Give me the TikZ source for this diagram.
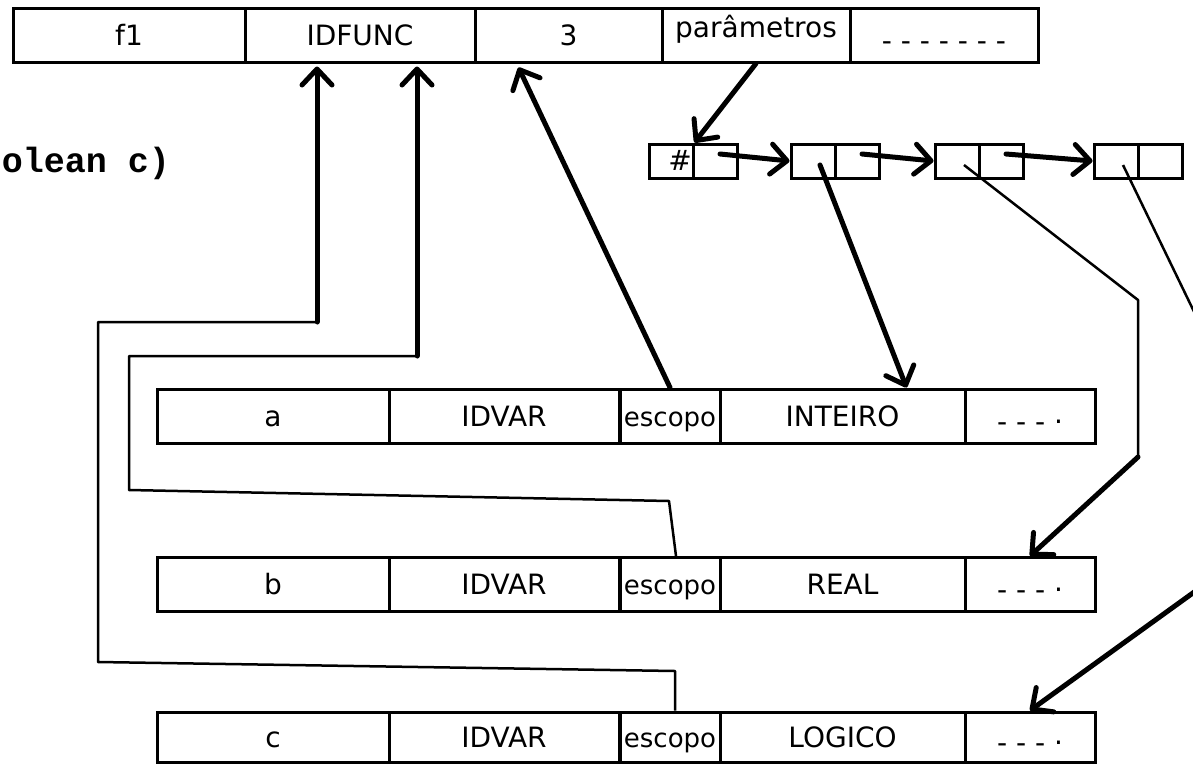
\documentclass[tikz,border=0pt]{standalone}
\usepackage{fontspec}
\setmainfont{DejaVu Sans}
\newfontfamily\codigo{Liberation Mono}
\usetikzlibrary{arrows.meta}
\begin{document}
\begin{tikzpicture}[x=1pt,y=-1pt,
  cel/.style={draw,line width=3pt,inner sep=0pt,minimum height=54pt,text height=20pt,text depth=0pt,font=\fontsize{28}{30}\selectfont},
  no/.style={draw,line width=3pt,inner sep=0pt,minimum width=44pt,minimum height=34pt,text height=18pt,text depth=0pt,font=\fontsize{28}{30}\selectfont},
  fio/.style={line width=2.5pt,line join=round},
  seta/.style={line width=5pt,line cap=round,-{Straight Barb[length=16pt,width=30pt,round]}}]
  \useasboundingbox (0,0) rectangle (1193,763);
  \clip (0,0) rectangle (1193,763);
  \node[cel,minimum width=232pt] (fNome) at (129,35) {f1};
  \node[cel,minimum width=230pt] (fTipo) at (360,35) {IDFUNC};
  \node[cel,minimum width=187pt] (fQtd) at (568.5,35) {3};
  \node[cel,minimum width=188pt] (fPar) at (756,35) {\raisebox{8pt}{parâmetros}};
  \node[cel,minimum width=188pt] (fResto) at (944,35) {\raisebox{-5pt}{- - - - - - -}};
  \node[anchor=base east,inner sep=0pt,font=\codigo\bfseries\fontsize{35}{40}\selectfont] (assinatura) at (170,172) {olean c)};
  \node[no] (p0) at (671,161) {\hspace*{18pt}\#};
  \node[no] (p0n) at (715,161) {};
  \node[no] (p1) at (813,161) {};
  \node[no] (p1n) at (857,161) {};
  \node[no] (p2) at (957,161) {};
  \node[no] (p2n) at (1001,161) {};
  \node[no] (p3) at (1116,161) {};
  \node[no] (p3n) at (1160,161) {};
  \node[cel,minimum width=232pt] (aNome) at (273,416) {a};
  \node[cel,minimum width=230pt] (aTipo) at (504,416) {IDVAR};
  \node[cel,minimum width=100pt,font=\fontsize{26}{28}\selectfont] (aEsc) at (670,416) {escopo};
  \node[cel,minimum width=245pt] (aDado) at (842.5,416) {INTEIRO};
  \node[cel,minimum width=130pt] (aResto) at (1030,416) {\raisebox{-5pt}{- - - ·}};
  \node[cel,minimum width=232pt] (bNome) at (273,584.5) {b};
  \node[cel,minimum width=230pt] (bTipo) at (504,584.5) {IDVAR};
  \node[cel,minimum width=100pt,font=\fontsize{26}{28}\selectfont] (bEsc) at (670,584.5) {escopo};
  \node[cel,minimum width=245pt] (bDado) at (842.5,584.5) {REAL};
  \node[cel,minimum width=130pt] (bResto) at (1030,584.5) {\raisebox{-5pt}{- - - ·}};
  \node[cel,minimum width=232pt,minimum height=50pt] (cNome) at (273,737) {c};
  \node[cel,minimum width=230pt,minimum height=50pt] (cTipo) at (504,737) {IDVAR};
  \node[cel,minimum width=100pt,minimum height=50pt,font=\fontsize{26}{28}\selectfont] (cEsc) at (670,737) {escopo};
  \node[cel,minimum width=245pt,minimum height=50pt] (cDado) at (842.5,737) {LOGICO};
  \node[cel,minimum width=130pt,minimum height=50pt] (cResto) at (1030,737) {\raisebox{-5pt}{- - - ·}};
  \draw[seta] (fPar.south) -- (p0.north east);
  \draw[seta] ([xshift=5pt,yshift=7pt]p0n.center) -- (p1.west);
  \draw[seta] ([xshift=5pt,yshift=7pt]p1n.center) -- (p2.west);
  \draw[seta] ([xshift=5pt,yshift=7pt]p2n.center) -- (p3.west);
  \draw[seta] ([xshift=7pt,yshift=-4pt]p1.center) -- ([xshift=64pt]aDado.north);
  \draw[fio] ([xshift=7pt,yshift=-4pt]p2.center) -- (1138,300) -- (1138,457) coordinate (dobraR);
  \draw[seta] (dobraR) -- (bResto.north);
  \draw[fio] ([xshift=7pt,yshift=-4pt]p3.center) -- (1215,355) -- (1215,577) coordinate (dobraL);
  \draw[seta] (dobraL) -- (cResto.north);
  \draw[seta] (aEsc.north) -- ([xshift=-50pt,yshift=-4pt]fQtd.south);
  \draw[fio] ([xshift=6pt]bEsc.north) -- (669,501) -- (129,490) -- (129,356) -- (417,356) coordinate (dobraB);
  \draw[seta] (dobraB) -- ([yshift=-3pt]dobraB |- fTipo.south);
  \draw[fio] ([xshift=5pt]cEsc.north) -- (675,671) -- (98,662) -- (98,322) -- (317,322) coordinate (dobraA);
  \draw[seta] (dobraA) -- ([yshift=-3pt]dobraA |- fTipo.south);
\end{tikzpicture}
\end{document}
